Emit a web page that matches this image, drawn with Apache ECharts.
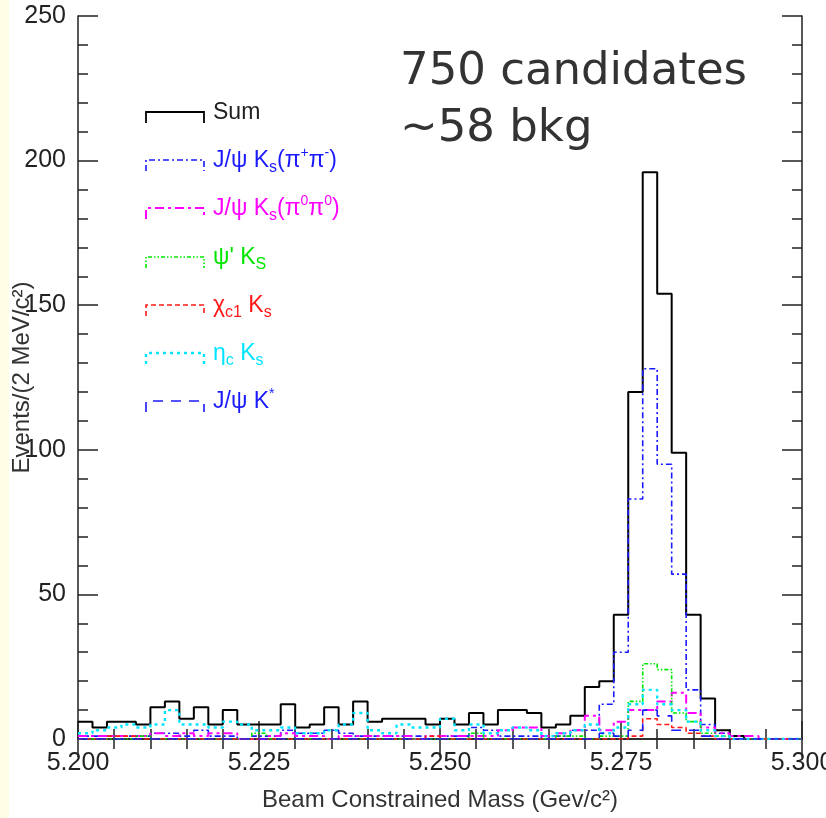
<!DOCTYPE html>
<html>
<head>
<meta charset="utf-8">
<script src="https://cdn.jsdelivr.net/npm/echarts@6/dist/echarts.min.js"></script>
<style>
html,body{margin:0;padding:0;background:#fff;}
#chart{width:826px;height:818px;}
</style>
</head>
<body>
<div id="chart"></div>
<script>
// ---- data ----
const binStart = 5.200;   // GeV/c^2
const binWidth = 0.002;   // 2 MeV bins
const nBins = 50;
const xTickLabels = ['5.200','5.225','5.250','5.275','5.300'];
const yTickLabels = ['0','50','100','150','200','250'];

const sumVals =   [6,4,6,6,5,11,13,7,11,5,10,5,5,5,12,4,5,11,5,13,6,7,7,7,5,7,5,9,5,10,10,9,4,5,8,18,20,43,120,196,154,99,43,14,3,1,0,0,0,0];
const jpsiKsPiPi =[1,1,1,1,1,2,2,1,3,1,1,0,1,1,3,2,2,3,2,1,1,1,1,1,0,1,1,4,3,1,1,1,0,1,3,3,12,30,83,128,95,57,17,5,2,0,0,0,0,0];
const jpsiKsPi0 = [1,1,1,1,1,2,1,2,1,2,2,0,0,1,2,1,1,0,1,1,1,1,1,0,1,1,1,1,1,3,4,4,1,2,3,8,3,6,10,10,13,16,9,4,2,1,1,0,0,0];
const psi2sKs =   [0,0,0,0,1,0,0,0,0,0,0,0,2,0,0,0,0,0,0,0,0,0,0,0,0,0,0,2,0,0,0,0,0,1,1,0,1,1,13,26,24,9,6,2,1,0,0,0,0,0];
const chic1Ks =   [0,0,1,1,0,0,0,0,0,0,0,0,0,0,0,0,0,0,0,0,0,0,0,0,1,0,0,0,0,0,0,0,0,0,0,0,0,0,1,7,5,4,2,1,0,0,0,0,0,0];
const etacKs =    [2,3,4,5,4,5,10,5,5,4,6,5,3,3,4,2,2,3,5,9,3,2,5,4,4,7,3,5,2,3,4,3,1,2,3,5,2,4,12,17,12,10,6,3,1,0,0,0,0,0];
const jpsiKstar = [0,0,0,0,0,0,0,0,0,0,0,0,0,0,0,0,0,0,0,0,0,0,0,0,0,0,0,0,0,0,0,0,0,0,0,0,2,1,3,10,8,3,3,1,0,0,0,0,0,0];

const seriesNames = ['Sum','J/ψ Ks(π+π-)','J/ψ Ks(π0π0)',"ψ' KS",'χc1 Ks','ηc Ks','J/ψ K*'];
const legendRich = [
  'Sum',
  'J/ψ K{sub|s}(π{sup|+}π{sup|-})',
  'J/ψ K{sub|s}(π{sup|0}π{sup|0})',
  "ψ' K{sub|S}",
  'χ{sub|c1} K{sub|s}',
  'η{sub|c} K{sub|s}',
  'J/ψ K{sup|*}'
];

// ---- styles ----
const colors = ['#000000','#1a1aff','#ff00ff','#00e600','#ff1a1a','#00e5ff','#1a1aff'];
const dashes = ['solid',[6,3,2,3],[9,4,3,4],[4,2,1.5,2,1.5,2],[5,3],[3,4],[10,8]];
const widths = [2,1.6,2,1.6,1.6,2.4,1.6];

function edges(){
  const e=[];
  for(let i=0;i<=nBins;i++) e.push(+(binStart+i*binWidth).toFixed(4));
  return e;
}
function histData(vals){
  const e=edges();
  return e.map((x,i)=>[x, vals[Math.min(i,vals.length-1)]]);
}
const allVals=[sumVals,jpsiKsPiPi,jpsiKsPi0,psi2sKs,chic1Ks,etacKs,jpsiKstar];

const series = allVals.map((v,k)=>({
  name: seriesNames[k],
  type:'line',
  step:'end',
  showSymbol:false,
  silent:true,
  animation:false,
  data: histData(v),
  lineStyle:{color:colors[k], width:widths[k], type:dashes[k]},
  z: 2
}));

const chart = echarts.init(document.getElementById('chart'), null, {renderer:'canvas'});

const axisCommon = {
  axisLine:{show:true, lineStyle:{color:'#222', width:1.5}},
  splitLine:{show:false},
  minorSplitLine:{show:false}
};

const FONT = 'Liberation Sans, Arial, sans-serif';
// legend graphics
const legendX0 = 146, legendX1 = 204, legendTextX = 213;
const legendRows = [112,160,208,257,305,353,401];
const graphics = [
  {type:'rect', left:0, top:0, shape:{x:0,y:0,width:9,height:818}, style:{fill:'#fffde6'}, silent:true}
];
legendRich.forEach((t,k)=>{
  const y = legendRows[k];
  graphics.push({
    type:'polyline', silent:true,
    shape:{points:[[legendX0,y+11],[legendX0,y],[legendX1,y],[legendX1,y+11]]},
    style:{stroke:colors[k], lineWidth: k===0?1.8:widths[k], lineDash: k===0?null:dashes[k], fill:null}
  });
  graphics.push({
    type:'text', silent:true, x:legendTextX, y:y+1,
    style:{
      text:t, fill:colors[k]==='#000000'?'#222':colors[k],
      fontFamily:FONT, fontSize:23, lineHeight:30,
      verticalAlign:'middle', align:'left',
      rich:{
        sub:{fontSize:16, lineHeight:14, verticalAlign:'bottom', fontFamily:FONT},
        sup:{fontSize:14, lineHeight:24, verticalAlign:'top', fontFamily:FONT}
      }
    }
  });
});
graphics.push({type:'text', silent:true, x:400, y:72,
  style:{text:'750 candidates', fill:'#333', fontFamily:'DejaVu Sans, sans-serif', fontSize:45, verticalAlign:'middle', align:'left'}});
graphics.push({type:'text', silent:true, x:400, y:129,
  style:{text:'~58 bkg', fill:'#333', fontFamily:'DejaVu Sans, sans-serif', fontSize:45, verticalAlign:'middle', align:'left'}});

chart.setOption({
  backgroundColor:'#ffffff',
  animation:false,
  grid:{left:78, right:24, top:16, bottom:79, containLabel:false, outerBoundsMode:'none'},
  xAxis:[
    Object.assign({}, axisCommon, {
      type:'value', position:'bottom', min:5.2, max:5.3, interval:0.025,
      axisTick:{show:true, inside:true, length:18, lineStyle:{color:'#222', width:1.5}},
      minorTick:{show:true, splitNumber:5, length:10, lineStyle:{color:'#222', width:1.5}},
      axisLabel:{show:true, margin:12, fontSize:25, color:'#222', fontFamily:FONT,
        formatter:(v)=>{const s=v.toFixed(3); return xTickLabels.indexOf(s)>=0?s:'';}},
      name:'Beam Constrained Mass (Gev/c²)', nameLocation:'middle', nameGap:49, nameMoveOverlap:false,
      nameTextStyle:{fontSize:24, color:'#333', fontFamily:FONT}
    }),
    Object.assign({}, axisCommon, {
      type:'value', position:'top', min:5.2, max:5.3, interval:0.025,
      axisTick:{show:true, inside:true, length:18, lineStyle:{color:'#222', width:1.5}},
      minorTick:{show:true, splitNumber:5, length:10, lineStyle:{color:'#222', width:1.5}},
      axisLabel:{show:false}
    })
  ],
  yAxis:[
    Object.assign({}, axisCommon, {
      type:'value', position:'left', min:0, max:250, interval:50,
      axisTick:{show:true, inside:true, length:20, lineStyle:{color:'#222', width:1.5}},
      minorTick:{show:true, splitNumber:5, length:10, lineStyle:{color:'#222', width:1.5}},
      axisLabel:{show:true, margin:12, fontSize:25, color:'#222', fontFamily:FONT,
        formatter:(v)=>{const s=String(Math.round(v)); return yTickLabels.indexOf(s)>=0?s:'';}},
      name:'Events/(2 MeV/c²)', nameLocation:'middle', nameGap:44, nameRotate:90, nameMoveOverlap:false,
      nameTextStyle:{fontSize:24, color:'#333', fontFamily:FONT}
    }),
    Object.assign({}, axisCommon, {
      type:'value', position:'right', min:0, max:250, interval:50,
      axisTick:{show:true, inside:true, length:20, lineStyle:{color:'#222', width:1.5}},
      minorTick:{show:true, splitNumber:5, length:10, lineStyle:{color:'#222', width:1.5}},
      axisLabel:{show:false}
    })
  ],
  series: series,
  graphic: graphics
});
</script>
</body>
</html>
